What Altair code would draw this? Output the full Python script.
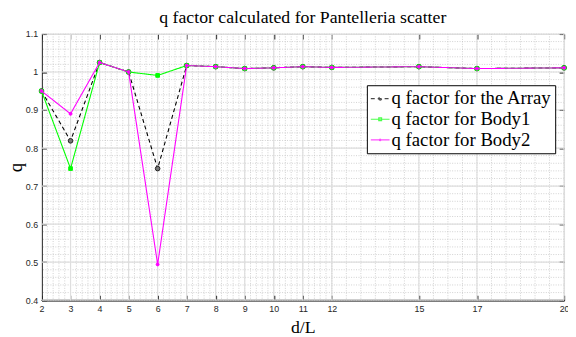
import altair as alt
import pandas as pd

# ---- data ----
d_over_L = [2, 3, 4, 5, 6, 7, 8, 9, 10, 11, 12, 15, 17, 20]
q_array = [0.950, 0.819, 1.025, 1.000, 0.746, 1.017, 1.014, 1.009, 1.011, 1.014, 1.012, 1.014, 1.009, 1.011]
q_body1 = [0.950, 0.746, 1.025, 1.000, 0.991, 1.017, 1.014, 1.009, 1.011, 1.014, 1.012, 1.014, 1.009, 1.011]
q_body2 = [0.950, 0.890, 1.025, 1.000, 0.494, 1.017, 1.014, 1.009, 1.011, 1.014, 1.012, 1.014, 1.009, 1.011]
series_names = ["q factor for the Array", "q factor for Body1", "q factor for Body2"]
series_colors = ["#000000", "#00ff00", "#ff00ff"]
x_ticks = [2, 3, 4, 5, 6, 7, 8, 9, 10, 11, 12, 15, 17, 20]
y_ticks = [0.4, 0.5, 0.6, 0.7, 0.8, 0.9, 1.0, 1.1]

# minor grid positions (styling)
x_minor = [round(2 + 0.2 * i, 2) for i in range(51)] + [round(12 + 0.5 * i, 2) for i in range(17)]
y_minor = [round(0.4 + 0.02 * i, 2) for i in range(36)]

rows = []
for name, vals in zip(series_names, [q_array, q_body1, q_body2]):
    for d, q in zip(d_over_L, vals):
        rows.append({"series": name, "d": d, "q": q})
df = pd.DataFrame(rows)

xs = alt.Scale(domain=[2, 20], nice=False, zero=False)
ys = alt.Scale(domain=[0.4, 1.1], nice=False, zero=False)

serif = "Liberation Serif"
sans = "Liberation Sans"

minor_x = alt.Chart(pd.DataFrame({"x": x_minor})).mark_rule(
    color="#bdbdbd", strokeDash=[1, 1.5], strokeWidth=0.7
).encode(x=alt.X("x:Q", scale=xs, axis=None))
minor_y = alt.Chart(pd.DataFrame({"y": y_minor})).mark_rule(
    color="#bdbdbd", strokeDash=[1, 1.5], strokeWidth=0.7
).encode(y=alt.Y("y:Q", scale=ys, axis=None))
major_x = alt.Chart(pd.DataFrame({"x": x_ticks})).mark_rule(
    color="#dedede", strokeWidth=1.2
).encode(x=alt.X("x:Q", scale=xs, axis=None))
major_y = alt.Chart(pd.DataFrame({"y": y_ticks})).mark_rule(
    color="#dedede", strokeWidth=1.2
).encode(y=alt.Y("y:Q", scale=ys, axis=None))

legend = alt.Legend(
    title=None,
    orient="none",
    legendX=330,
    legendY=52,
    fillColor="white",
    strokeColor="black",
    padding=3,
    labelFont=serif,
    labelFontSize=19,
    labelColor="black",
    labelLimit=400,
    symbolSize=361,
    symbolStrokeWidth=1.2,
    rowPadding=0,
    labelOffset=1,
)

color_enc = alt.Color("series:N", scale=alt.Scale(domain=series_names, range=series_colors), legend=legend)
dash_enc = alt.StrokeDash(
    "series:N",
    scale=alt.Scale(domain=series_names, range=[[4, 3], [1, 0], [1, 0]]),
    legend=legend,
)
legend_shapes = [
    "M-1,0L1,0M-0.16,0a0.16,0.16 0 1,0 0.32,0a0.16,0.16 0 1,0 -0.32,0",
    "M-1,0L1,0M-0.15,-0.15h0.3v0.3h-0.3z",
    "M-1,0L1,0M-0.08,0a0.08,0.08 0 1,0 0.16,0a0.08,0.08 0 1,0 -0.16,0",
]
shape_enc = alt.Shape(
    "series:N", scale=alt.Scale(domain=series_names, range=legend_shapes), legend=legend
)

x_main = alt.Axis(
    values=x_ticks, title="d/L", titleFont=serif, titleFontSize=18, titleFontWeight="normal",
    titleColor="black", titlePadding=5, labelFont=sans, labelFontSize=9, labelColor="#262626",
    labelPadding=5, ticks=False, grid=False, domainColor="black", domainWidth=1.6, labelFlush=False,
)
y_main = alt.Axis(
    values=y_ticks, format=".1~f", title="q", titleFont=serif, titleFontSize=19, titleFontWeight="normal",
    titleColor="black", titlePadding=0, labelFont=sans, labelFontSize=9, labelColor="#262626",
    labelPadding=4, ticks=False, grid=False, domainColor="black", domainWidth=1.6,
)

layers = [minor_x, minor_y, major_x, major_y]
marker_shapes = ["circle", "square", "circle"]
marker_sizes = [22, 14, 9]
marker_fill = ["#777777", "#00ff00", "#ff00ff"]
for i, name in enumerate(series_names):
    base = alt.Chart(df).transform_filter(alt.datum.series == name)
    if i == 0:
        xa, ya = x_main, y_main
    else:
        xa, ya = None, None
    line = base.mark_line(strokeWidth=1.1).encode(
        x=alt.X("d:Q", scale=xs, axis=xa),
        y=alt.Y("q:Q", scale=ys, axis=ya),
        color=color_enc,
        strokeDash=dash_enc,
    )
    pts = base.mark_point(
        shape=marker_shapes[i], size=marker_sizes[i], filled=False,
        strokeWidth=1, fill=marker_fill[i], fillOpacity=1,
        stroke=series_colors[i] if i else "#222222",
    ).encode(
        x=alt.X("d:Q", scale=xs, axis=None),
        y=alt.Y("q:Q", scale=ys, axis=None),
    )
    layers += [line, pts]

# legend-only layer (no data drawn) that contributes marker shapes to the legend
legend_layer = alt.Chart(df).transform_filter("false").mark_point(filled=False).encode(
    x=alt.X("d:Q", scale=xs, axis=None),
    y=alt.Y("q:Q", scale=ys, axis=None),
    color=color_enc,
    shape=shape_enc,
)
layers.append(legend_layer)

tick_style = dict(labels=False, domain=False, grid=False, ticks=True, tickSize=5,
                  tickColor="black", tickWidth=1.2, title=None)
ticks_bl = alt.Chart(df).mark_point(opacity=0).encode(
    x=alt.X("d:Q", scale=xs, axis=alt.Axis(values=x_ticks, orient="bottom", offset=-5, **tick_style)),
    y=alt.Y("q:Q", scale=ys, axis=alt.Axis(values=y_ticks, orient="left", offset=-5, **tick_style)),
)
ticks_tr = alt.Chart(df).mark_point(opacity=0).encode(
    x=alt.X("d:Q", scale=xs, axis=alt.Axis(values=x_ticks, orient="top", offset=-5, **tick_style)),
    y=alt.Y("q:Q", scale=ys, axis=alt.Axis(values=y_ticks, orient="right", offset=-5, **tick_style)),
)
layers += [ticks_bl, ticks_tr]

chart = alt.layer(*layers).resolve_axis(x="independent", y="independent").properties(
    width=530,
    height=270,
    autosize=alt.AutoSizeParams(type="none"),
    padding={"left": 34, "top": 24, "right": 4, "bottom": 34},
    title=alt.TitleParams(
        "q factor calculated for Pantelleria scatter", font=serif, fontSize=18,
        fontWeight="normal", color="black", anchor="middle", offset=3,
    ),
).configure_view(stroke="black", strokeWidth=1).configure(background="white")

chart.save("out.html", embed_options={"renderer": "svg", "actions": False})
